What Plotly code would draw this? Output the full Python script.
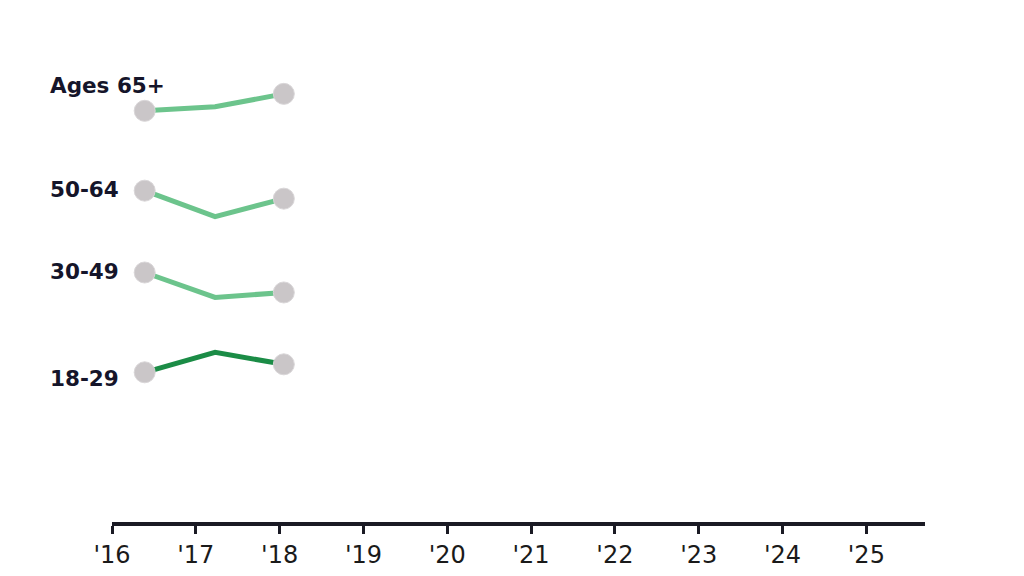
import plotly.graph_objects as go

years = [2016.39, 2017.23, 2018.05]
groups = ["Ages 65+", "50-64", "30-49", "18-29"]
values = {
    "Ages 65+": [82.4, 83.2, 85.8],
    "50-64": [66.4, 61.2, 64.8],
    "30-49": [50.0, 45.0, 46.0],
    "18-29": [30.0, 34.0, 31.6],
}
label_y = {"Ages 65+": 87.4, "50-64": 66.6, "30-49": 50.2, "18-29": 28.8}
line_colors = {"Ages 65+": "#6cc48c", "50-64": "#6cc48c", "30-49": "#6cc48c", "18-29": "#1b8c46"}
tick_vals = list(range(2016, 2026))
tick_text = ["'16", "'17", "'18", "'19", "'20", "'21", "'22", "'23", "'24", "'25"]

fig = go.Figure()
for g in groups:
    fig.add_trace(go.Scatter(
        x=years, y=values[g], mode="lines",
        line=dict(color=line_colors[g], width=5),
        hoverinfo="skip", showlegend=False,
    ))
    fig.add_trace(go.Scatter(
        x=[years[0], years[-1]], y=[values[g][0], values[g][-1]], mode="markers",
        marker=dict(size=21, color="#cac6c8", line=dict(width=1, color="#d9d6d8")),
        hoverinfo="skip", showlegend=False,
    ))
    fig.add_annotation(
        x=-0.0785, xref="paper", y=label_y[g], yref="y",
        text=f"<b>{g}</b>", showarrow=False, xanchor="left", yanchor="middle",
        font=dict(family="DejaVu Sans", size=21.5, color="#15152a"),
    )

fig.update_layout(
    width=1024, height=576,
    margin=dict(l=104, r=107, t=15, b=62),
    paper_bgcolor="white", plot_bgcolor="white",
    xaxis=dict(
        range=[2016, 2025.7], tickvals=tick_vals, ticktext=tick_text,
        showgrid=False, zeroline=False, showline=True, linecolor="#1a1a24", linewidth=4,
        ticks="outside", ticklen=8, tickwidth=3, tickcolor="#1a1a24",
        tickfont=dict(family="DejaVu Sans", size=24, color="#1a1a1a"),
    ),
    yaxis=dict(range=[0, 100], visible=False, showgrid=False, zeroline=False),
)

fig.write_html("out.html")
